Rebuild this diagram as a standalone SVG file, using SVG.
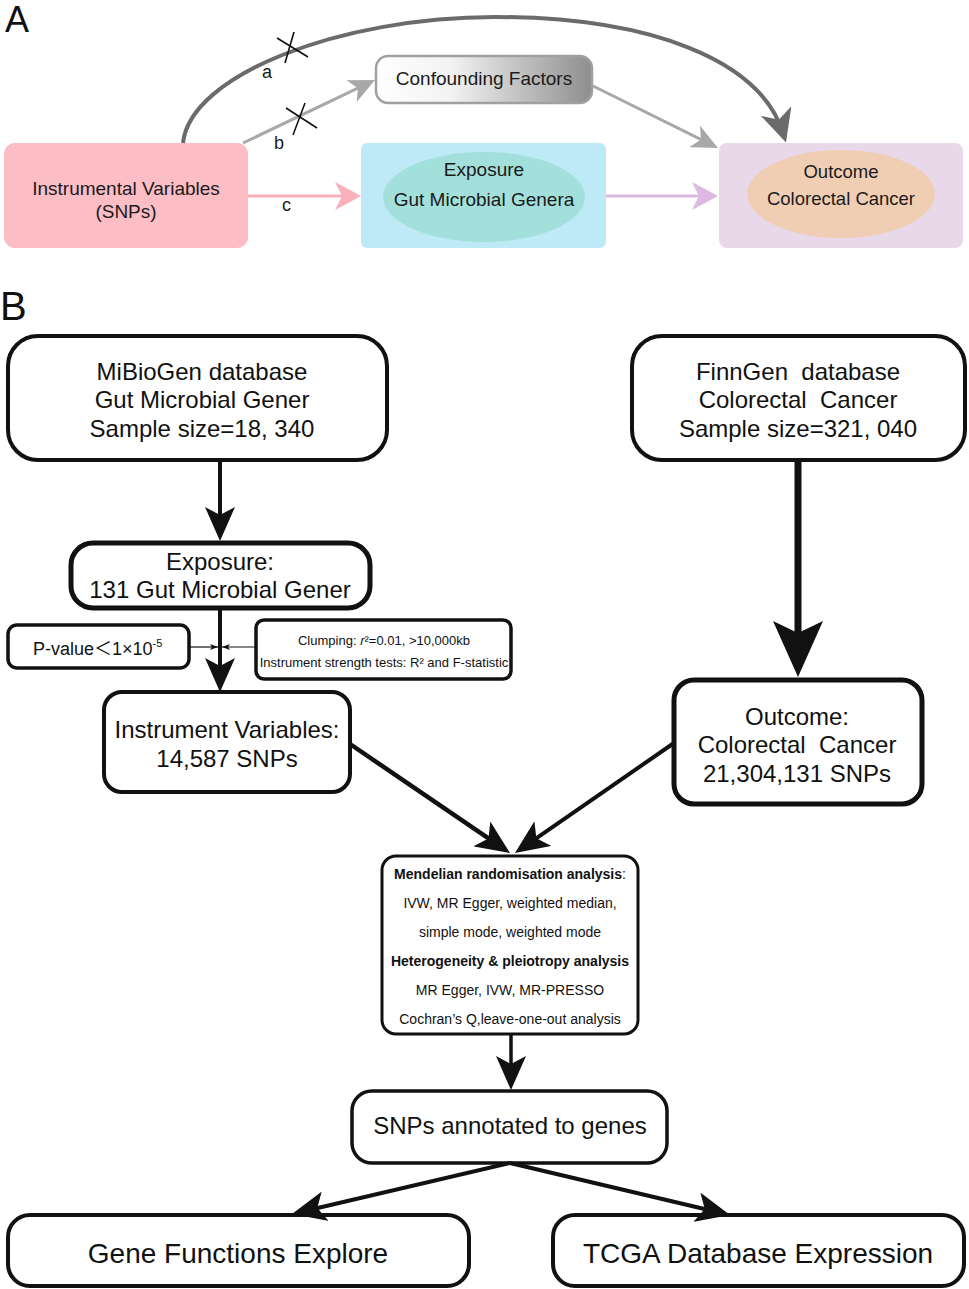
<svg xmlns="http://www.w3.org/2000/svg" width="969" height="1289" viewBox="0 0 969 1289">
<style>
  text { font-family: "Liberation Sans", Arial, sans-serif; fill: #111; }
  .big { font-size: 24px; text-anchor: middle; }
  .a { font-size: 19px; text-anchor: middle; fill: #1a1a1a; }
  .lbl { font-size: 18px; fill: #1a1a1a; }
  .box { fill: #fff; stroke: #111; }
  .mr { font-size: 14px; text-anchor: middle; }
  .b { font-weight: bold; }
  .pre { white-space: pre; }
  .ln { fill: none; stroke: #111; }
</style>
<defs>
  <linearGradient id="gconf" x1="0" y1="0" x2="1" y2="0">
    <stop offset="0" stop-color="#ffffff"/>
    <stop offset="0.35" stop-color="#f2f2f2"/>
    <stop offset="1" stop-color="#8e8e8e"/>
  </linearGradient>
  <marker id="mMed" viewBox="0 0 34 30" refX="24" refY="15" markerWidth="34" markerHeight="30" markerUnits="userSpaceOnUse" orient="auto">
    <path d="M0,0 L34,15 L0,30 L8,15 z" fill="#111"/>
  </marker>
  <marker id="mBig" viewBox="0 0 56 50" refX="44" refY="25" markerWidth="56" markerHeight="50" markerUnits="userSpaceOnUse" orient="auto">
    <path d="M0,0 L56,25 L0,50 L12,25 z" fill="#111"/>
  </marker>
  <marker id="mTiny" viewBox="0 0 8 6" refX="8" refY="3" markerWidth="8" markerHeight="6" markerUnits="userSpaceOnUse" orient="auto">
    <path d="M0,0 L8,3 L0,6 L2,3 z" fill="#111"/>
  </marker>
  <marker id="mGray" viewBox="0 0 26 24" refX="18" refY="12" markerWidth="26" markerHeight="24" markerUnits="userSpaceOnUse" orient="auto">
    <path d="M0,0 L26,12 L0,24 L7,12 z" fill="#a8a8a8"/>
  </marker>
  <marker id="mDark" viewBox="0 0 33 32" refX="23" refY="16" markerWidth="33" markerHeight="32" markerUnits="userSpaceOnUse" orient="auto">
    <path d="M0,0 L33,16 L0,32 L9,16 z" fill="#6b6b6b"/>
  </marker>
  <marker id="mPink" viewBox="0 0 26 28" refX="18" refY="14" markerWidth="26" markerHeight="28" markerUnits="userSpaceOnUse" orient="auto">
    <path d="M0,0 L26,14 L0,28 L7,14 z" fill="#f9b0ba"/>
  </marker>
  <marker id="mPurp" viewBox="0 0 26 28" refX="18" refY="14" markerWidth="26" markerHeight="28" markerUnits="userSpaceOnUse" orient="auto">
    <path d="M0,0 L26,14 L0,28 L7,14 z" fill="#ddb8e0"/>
  </marker>
</defs>

<rect width="969" height="1289" fill="#fff"/>

<!-- Panel labels -->
<text x="5" y="32" style="font-size:36px">A</text>
<text x="0" y="320" style="font-size:40px">B</text>

<!-- Panel A nodes -->
<g id="iv-a">
  <rect x="4" y="143" width="244" height="105" rx="11" fill="#fdbdc5"/>
  <text class="a" x="126" y="195">Instrumental Variables</text>
  <text class="a" x="126" y="218">(SNPs)</text>
</g>
<g id="confounding">
  <rect x="376" y="56" width="216" height="47" rx="12" fill="url(#gconf)" stroke="#a0a0a0" stroke-width="2.5"/>
  <text class="a" x="484" y="85">Confounding Factors</text>
</g>
<g id="exposure-a">
  <rect x="361" y="143" width="245" height="105" rx="6" fill="#bee9f6"/>
  <ellipse cx="484" cy="197" rx="101" ry="45" fill="#a3e0db"/>
  <text class="a" x="484" y="176">Exposure</text>
  <text class="a" x="484" y="206">Gut Microbial Genera</text>
</g>
<g id="outcome-a">
  <rect x="719" y="143" width="244" height="105" rx="8" fill="#e8d8ea"/>
  <ellipse cx="841" cy="194" rx="94" ry="44" fill="#f0ceb4"/>
  <text class="a" x="841" y="178" style="font-size:18.5px">Outcome</text>
  <text class="a" x="841" y="205" style="font-size:18.5px">Colorectal Cancer</text>
</g>

<!-- Panel A connectors -->
<g id="connectors-a">
  <path d="M183,143 C190,75 340,17 495,17 C650,17 760,60 783,133" fill="none" stroke="#6b6b6b" stroke-width="4" marker-end="url(#mDark)"/>
  <line x1="243" y1="143" x2="367.8" y2="83.4" stroke="#a8a8a8" stroke-width="3" marker-end="url(#mGray)"/>
  <line x1="593" y1="86" x2="710.8" y2="144.4" stroke="#a8a8a8" stroke-width="3" marker-end="url(#mGray)"/>
  <line x1="248" y1="196" x2="353" y2="196" stroke="#f9b0ba" stroke-width="3" marker-end="url(#mPink)"/>
  <line x1="606" y1="196" x2="710" y2="196" stroke="#ddb8e0" stroke-width="3" marker-end="url(#mPurp)"/>
  <!-- crosses -->
  <line x1="277" y1="38" x2="308" y2="57" stroke="#111" stroke-width="1.6"/>
  <line x1="294" y1="32" x2="285" y2="63" stroke="#111" stroke-width="1.6"/>
  <line x1="286" y1="108" x2="317" y2="128" stroke="#111" stroke-width="1.6"/>
  <line x1="305" y1="103" x2="293" y2="135" stroke="#111" stroke-width="1.6"/>
  <text class="lbl" x="262" y="78">a</text>
  <text class="lbl" x="274" y="149">b</text>
  <text class="lbl" x="282" y="211">c</text>
</g>

<!-- Panel B nodes -->
<g id="mibiogen">
  <rect class="box" x="8" y="336" width="379" height="124" rx="30" stroke-width="4"/>
  <text class="big" x="202" y="380">MiBioGen database</text>
  <text class="big" x="202" y="408">Gut Microbial Gener</text>
  <text class="big" x="202" y="437">Sample size=18, 340</text>
</g>
<g id="finngen">
  <rect class="box" x="632" y="336" width="333" height="124" rx="30" stroke-width="4"/>
  <text class="big pre" x="798" y="380">FinnGen  database</text>
  <text class="big pre" x="798" y="408">Colorectal  Cancer</text>
  <text class="big" x="798" y="437">Sample size=321, 040</text>
</g>
<g id="exposure-b">
  <rect class="box" x="71" y="543" width="299" height="65" rx="22" stroke-width="5"/>
  <text class="big" x="220" y="570">Exposure:</text>
  <text class="big" x="220" y="598">131 Gut Microbial Gener</text>
</g>
<g id="pvalue">
  <rect class="box" x="8" y="625" width="181" height="43" rx="9" stroke-width="3.5"/>
  <text x="33" y="655" style="font-size:18px;font-family:'Liberation Sans','Noto Sans CJK SC',sans-serif">P-value＜1×10<tspan dy="-8" style="font-size:11px">-5</tspan></text>
</g>
<g id="clumping">
  <rect class="box" x="256" y="620" width="255" height="59" rx="8" stroke-width="3.5"/>
  <text x="384" y="645" style="font-size:13px;text-anchor:middle">Clumping: <tspan font-style="italic">r</tspan>²=0.01, &gt;10,000kb</text>
  <text x="384" y="667" style="font-size:13px;text-anchor:middle">Instrument strength tests: R² and F-statistic</text>
</g>
<g id="instrument-variables">
  <rect class="box" x="104" y="692" width="246" height="100" rx="18" stroke-width="4"/>
  <text class="big" x="227" y="738">Instrument Variables:</text>
  <text class="big" x="227" y="767">14,587 SNPs</text>
</g>
<g id="outcome-b">
  <rect class="box" x="674" y="680" width="248" height="124" rx="20" stroke-width="5"/>
  <text class="big" x="797" y="725">Outcome:</text>
  <text class="big pre" x="797" y="753">Colorectal  Cancer</text>
  <text class="big" x="797" y="782">21,304,131 SNPs</text>
</g>
<g id="mr-analysis">
  <rect class="box" x="382" y="856" width="256" height="178" rx="14" stroke-width="3"/>
  <text class="mr" x="510" y="879"><tspan class="b">Mendelian randomisation analysis</tspan>:</text>
  <text class="mr" x="510" y="908">IVW, MR Egger, weighted median,</text>
  <text class="mr" x="510" y="937">simple mode, weighted mode</text>
  <text class="mr b" x="510" y="966">Heterogeneity &amp; pleiotropy analysis</text>
  <text class="mr" x="510" y="995">MR Egger, IVW, MR-PRESSO</text>
  <text class="mr" x="510" y="1024">Cochran’s Q,leave-one-out analysis</text>
</g>
<g id="snps-annotated">
  <rect class="box" x="352" y="1091" width="315" height="72" rx="20" stroke-width="3.5"/>
  <text class="big" x="510" y="1134">SNPs annotated to genes</text>
</g>
<g id="gene-functions">
  <rect class="box" x="8" y="1215" width="461" height="71" rx="22" stroke-width="4"/>
  <text class="big" x="238" y="1263" style="font-size:28px">Gene Functions Explore</text>
</g>
<g id="tcga">
  <rect class="box" x="553" y="1215" width="411" height="71" rx="22" stroke-width="4"/>
  <text class="big" x="758" y="1263" style="font-size:28px">TCGA Database Expression</text>
</g>

<!-- Panel B connectors -->
<g id="connectors-b">
  <line class="ln" x1="220" y1="460" x2="220" y2="531" stroke-width="4" marker-end="url(#mMed)"/>
  <line class="ln" x1="220" y1="608" x2="220" y2="682" stroke-width="4" marker-end="url(#mMed)"/>
  <line class="ln" x1="189" y1="647" x2="218" y2="647" stroke-width="1.2" marker-end="url(#mTiny)"/>
  <line class="ln" x1="256" y1="647" x2="222" y2="647" stroke-width="1.2" marker-end="url(#mTiny)"/>
  <line class="ln" x1="798" y1="460" x2="798" y2="665" stroke-width="7" marker-end="url(#mBig)"/>
  <line class="ln" x1="350" y1="744" x2="501.7" y2="847.4" stroke-width="4.5" marker-end="url(#mMed)"/>
  <line class="ln" x1="674" y1="743" x2="523.2" y2="847.3" stroke-width="4" marker-end="url(#mMed)"/>
  <line class="ln" x1="511" y1="1034" x2="511" y2="1080" stroke-width="3.5" marker-end="url(#mMed)"/>
  <line class="ln" x1="510" y1="1163" x2="301.7" y2="1211.7" stroke-width="4" marker-end="url(#mMed)"/>
  <line class="ln" x1="510" y1="1163" x2="720.3" y2="1212.7" stroke-width="4" marker-end="url(#mMed)"/>
</g>
</svg>
